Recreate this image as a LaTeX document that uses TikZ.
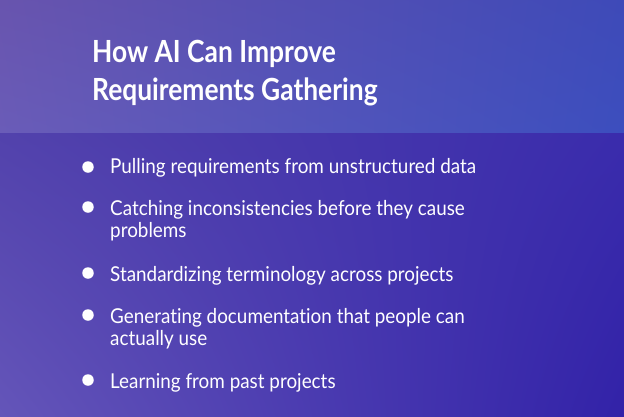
\documentclass[tikz,border=0pt]{standalone}
\usepackage{fontspec}
\usetikzlibrary{shadings}
\setmainfont{Lato}[FakeStretch=0.92,Ligatures=NoCommon]
\newfontfamily\titlefont{Lato}[FakeStretch=0.865,Ligatures=NoCommon]
\definecolor{tUL}{RGB}{104,84,174}
\definecolor{tUR}{RGB}{62,74,184}
\definecolor{tLL}{RGB}{106,92,184}
\definecolor{tLR}{RGB}{60,78,190}
\definecolor{bUL}{RGB}{82,66,172}
\definecolor{bUR}{RGB}{58,44,172}
\definecolor{bLL}{RGB}{100,85,185}
\definecolor{bLR}{RGB}{50,34,168}
\begin{document}
\begin{tikzpicture}[x=1pt,y=-1pt,
  titletext/.style={anchor=base west,inner sep=0pt,text=white,font=\titlefont\fontsize{30.5}{38}\selectfont\bfseries},
  itemtext/.style={anchor=base west,inner sep=0pt,text=white,font=\fontsize{20.5}{22}\selectfont},
  dot/.style={circle,fill=white,inner sep=0pt,minimum size=11.5pt}]
\useasboundingbox (0,0) rectangle (624,416);
\shade[upper left=tUL,upper right=tUR,lower left=tLL,lower right=tLR]
  (0,0) rectangle (624,133);
\shade[upper left=bUL,upper right=bUR,lower left=bLL,lower right=bLR]
  (0,133) rectangle (624,416);
\node[titletext] (t1) at (92,62) {How AI Can Improve};
\node[titletext] (t2) at (92,100) {Requirements Gathering};
\node[dot] (b1) at (88,167) {};
\node[itemtext] (i1) at (110,173) {Pulling requirements from unstructured data};
\node[dot] (b2) at (88,207) {};
\node[itemtext] (i2) at (110,215) {Catching inconsistencies before they cause};
\node[itemtext] (i2b) at (110,237) {problems};
\node[dot] (b3) at (88,273) {};
\node[itemtext] (i3) at (110,281) {Standardizing terminology across projects};
\node[dot] (b4) at (88,315) {};
\node[itemtext] (i4) at (110,323) {Generating documentation that people can};
\node[itemtext] (i4b) at (110,345) {actually use};
\node[dot] (b5) at (88,380) {};
\node[itemtext] (i5) at (110,388) {Learning from past projects};
\end{tikzpicture}
\end{document}
